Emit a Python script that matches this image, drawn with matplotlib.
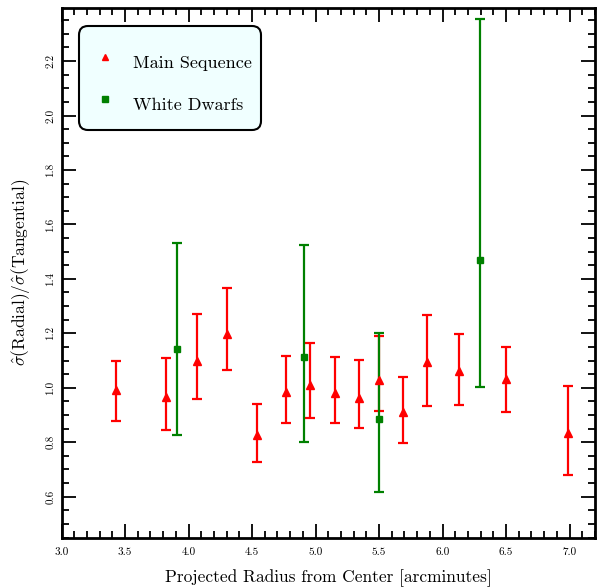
import matplotlib
matplotlib.use("Agg")
import matplotlib.pyplot as plt
from matplotlib.lines import Line2D
from matplotlib.ticker import MultipleLocator, FormatStrFormatter
import numpy as np

# Main Sequence data
ms_x = [3.43, 3.82, 4.07, 4.305, 4.54, 4.77, 4.96, 5.15, 5.34, 5.50, 5.686, 5.88, 6.13, 6.50, 6.99]
ms_y = [0.99, 0.965, 1.097, 1.199, 0.828, 0.983, 1.012, 0.979, 0.962, 1.03, 0.91, 1.093, 1.06, 1.032, 0.833]
ms_hi = [1.10, 1.11, 1.27, 1.367, 0.942, 1.117, 1.166, 1.113, 1.103, 1.19, 1.038, 1.268, 1.198, 1.151, 1.008]
ms_lo = [0.878, 0.844, 0.958, 1.064, 0.727, 0.869, 0.89, 0.872, 0.854, 0.915, 0.796, 0.934, 0.936, 0.912, 0.68]

# White Dwarf data
wd_x = [3.913, 4.907, 5.497, 6.297]
wd_y = [1.144, 1.114, 0.886, 1.469]
wd_hi = [1.533, 1.523, 1.20, 2.355]
wd_lo = [0.828, 0.802, 0.618, 1.001]

labels = ['Main Sequence', 'White Dwarfs']

plt.rcParams['font.family'] = 'serif'
plt.rcParams['font.serif'] = ['cmr10', 'DejaVu Serif']
plt.rcParams['mathtext.fontset'] = 'cm'
plt.rcParams['axes.formatter.use_mathtext'] = True

fig = plt.figure(figsize=(5.97, 5.87), dpi=100)
ax = fig.add_axes([61.5/597, 1-537.5/587, (595-61.5)/597, (537.5-8)/587])

ms_err = [np.array(ms_y) - np.array(ms_lo), np.array(ms_hi) - np.array(ms_y)]
wd_err = [np.array(wd_y) - np.array(wd_lo), np.array(wd_hi) - np.array(wd_y)]

ax.errorbar(ms_x, ms_y, yerr=ms_err, fmt='^', color='red', ms=5.5, elinewidth=1.6,
            capsize=3.5, capthick=1.6, zorder=3)
ax.errorbar(wd_x, wd_y, yerr=wd_err, fmt='s', color='green', ms=5, elinewidth=1.6,
            capsize=3.5, capthick=1.6, zorder=3)

ax.set_xlim(3.0, 7.2)
ax.set_ylim(0.45, 2.395)
ax.xaxis.set_major_locator(MultipleLocator(0.5))
ax.xaxis.set_minor_locator(MultipleLocator(0.1))
ax.yaxis.set_major_locator(MultipleLocator(0.2))
ax.yaxis.set_minor_locator(MultipleLocator(0.05))
ax.xaxis.set_major_formatter(FormatStrFormatter('%.1f'))
ax.yaxis.set_major_formatter(FormatStrFormatter('%.1f'))
ax.tick_params(which='both', direction='in', top=True, right=True, width=1.3,
               labelsize=8)
ax.tick_params(axis='x', which='both', pad=7)
ax.tick_params(axis='y', which='both', pad=4.5)
ax.tick_params(which='major', length=10)
ax.tick_params(which='minor', length=5)
for lab in ax.get_yticklabels():
    lab.set_rotation(90)
    lab.set_va('center')
for s in ax.spines.values():
    s.set_linewidth(2)

ax.set_xlabel('Projected Radius from Center [arcminutes]', fontsize=12.5, labelpad=9)
ax.set_ylabel(r'$\hat{\sigma}(\mathrm{Radial})/\hat{\sigma}(\mathrm{Tangential})$',
              fontsize=12.5, labelpad=10)

handles = [Line2D([], [], marker='^', color='red', ls='none', ms=5),
           Line2D([], [], marker='s', color='green', ls='none', ms=4.5)]
leg = ax.legend(handles, labels, loc='upper left',
                bbox_to_anchor=((79-61.5)/533.5, 1-18/529.5), fontsize=13,
                labelspacing=0.55, handleheight=2.35, handlelength=1.9,
                borderpad=0.5, handletextpad=0.6, fancybox=True, framealpha=1,
                borderaxespad=0, title=' ', title_fontsize=1)
fr = leg.get_frame()
fr.set_facecolor('#f0ffff')
fr.set_edgecolor('black')
fr.set_linewidth(1.5)
fr.set_boxstyle('round', pad=0, rounding_size=0.5)

fig.savefig('out.png', dpi=100)
